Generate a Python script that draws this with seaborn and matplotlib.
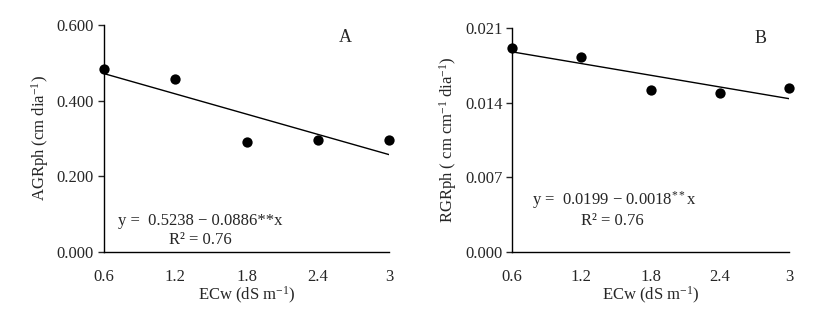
import matplotlib
matplotlib.use("Agg")
import matplotlib.pyplot as plt
import seaborn as sns
import pandas as pd

# dados
ecw = [0.6, 1.2, 1.8, 2.4, 3.0]
agr = [0.483, 0.456, 0.291, 0.296, 0.295]
rgr = [0.01918, 0.01828, 0.01521, 0.0149, 0.01537]

x_ticks = [0.6, 1.2, 1.8, 2.4, 3.0]
x_labels = ["0.6", "1.2", "1.8", "2.4", "3"]
yticks_a = [0.0, 0.2, 0.4, 0.6]
yticks_b = [0.0, 0.007, 0.014, 0.021]

df = pd.DataFrame({"ECw": ecw, "AGRph": agr, "RGRph": rgr})

sns.set_style("ticks")
plt.rcParams["font.family"] = ["Liberation Serif", "DejaVu Serif"]
plt.rcParams["mathtext.fontset"] = "custom"
plt.rcParams["mathtext.rm"] = "Liberation Serif"
plt.rcParams["mathtext.it"] = "Liberation Serif:italic"
plt.rcParams["font.size"] = 11

fig = plt.figure(figsize=(8.3, 3.11), dpi=100)
ax1 = fig.add_axes([0.125, 0.190, 0.344, 0.730])
ax2 = fig.add_axes([0.617, 0.190, 0.334, 0.719])

paineis = [
    (ax1, "AGRph", yticks_a, "AGRph (cm dia$^{-1}$)", "A", (0.846, 0.943),
     "y =  0.5238 \u2212 0.0886**x", (0.05, 0.137), (0.337, 0.053)),
    (ax2, "RGRph", yticks_b, "RGRph ( cm cm$^{-1}$ dia$^{-1}$)", "B", (0.895, 0.955),
     "y =  0.0199 \u2212 0.0018$^{**}$x", (0.072, 0.232), (0.36, 0.140)),
]

for ax, col, yt, ylab, letra, pos_l, eq, pos_eq, pos_r2 in paineis:
    sns.regplot(data=df, x="ECw", y=col, ax=ax, ci=None, truncate=True,
                color="black",
                scatter_kws={"s": 55, "clip_on": False, "linewidths": 0, "alpha": 1},
                line_kws={"linewidth": 1.0})
    ax.set_xlim(0.6, 3.0)
    ax.set_ylim(yt[0], yt[-1])
    ax.set_xticks(x_ticks)
    ax.set_xticklabels(x_labels)
    ax.set_yticks(yt)
    ax.set_yticklabels([f"{v:.3f}" for v in yt])
    ax.tick_params(axis="x", length=0, pad=12, labelsize=12)
    ax.tick_params(axis="y", length=4, width=1, pad=3, labelsize=12)
    ax.set_xlabel("ECw (dS m$^{-1}$)", fontsize=12, labelpad=0)
    ax.set_ylabel(ylab, fontsize=12, labelpad=4)
    for s in ["top", "right"]:
        ax.spines[s].set_visible(False)
    for s in ["left", "bottom"]:
        ax.spines[s].set_linewidth(1.0)
        ax.spines[s].set_color("black")
    ax.text(pos_l[0], pos_l[1], letra, transform=ax.transAxes, fontsize=13,
            ha="center", va="center")
    ax.text(pos_eq[0], pos_eq[1], eq, transform=ax.transAxes, fontsize=12,
            ha="left", va="center")
    ax.text(pos_r2[0], pos_r2[1], "R\u00b2 = 0.76", transform=ax.transAxes,
            fontsize=12, ha="center", va="center")

fig.savefig("out.png", dpi=100)
